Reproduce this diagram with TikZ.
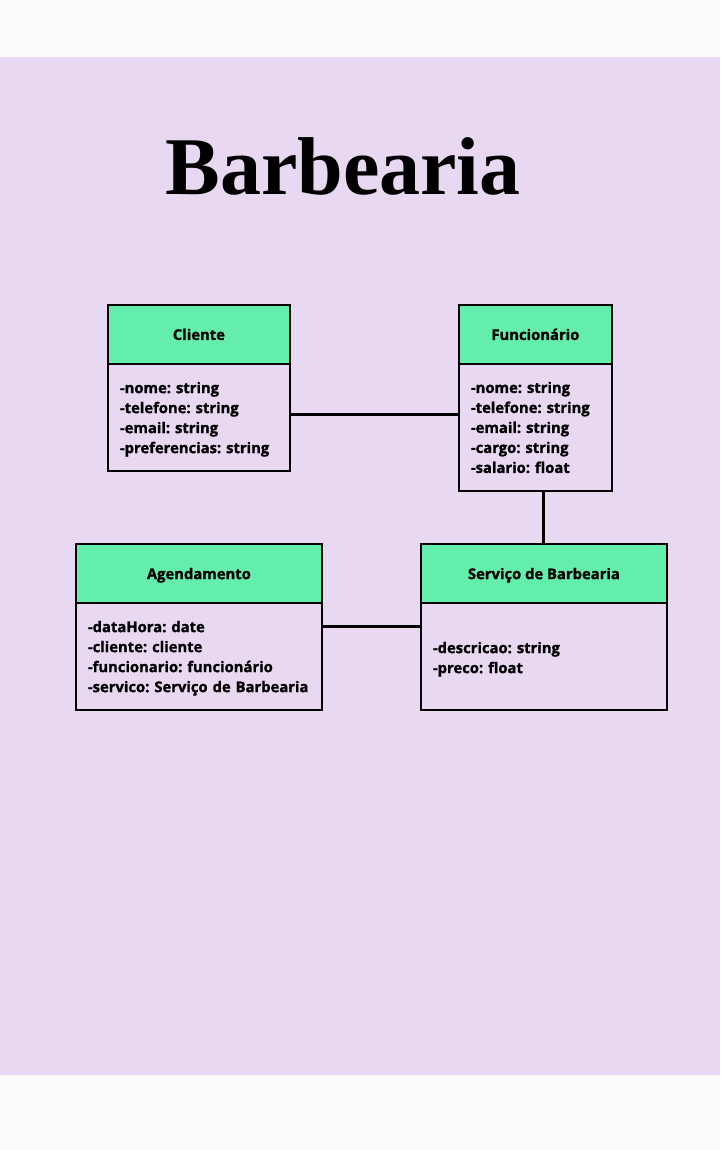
\documentclass[tikz,border=0pt]{standalone}
\usepackage{fontspec}
\setmainfont{Open Sans}[BoldFont={Open Sans Bold},BoldFeatures={FakeBold=1.3}]
\newfontfamily\titlefont{Liberation Serif}
\definecolor{lav}{HTML}{E8D8F2}
\definecolor{hdrgreen}{HTML}{64EEAB}
\definecolor{offwhite}{HTML}{FCFCFC}
\newcommand{\lowerby}[1]{\rule{0pt}{#1pt}}
\tikzset{
  hdr/.style={draw=black, line width=1.8pt, fill=hdrgreen, anchor=north west, minimum height=59, inner sep=0pt, font=\fontsize{14.8}{17}\selectfont\bfseries},
  body/.style={draw=black, line width=1.8pt, fill=lav, anchor=north west, inner xsep=12, inner ysep=0pt, align=left, font=\fontsize{14.8}{20}\selectfont\bfseries},
  conn/.style={draw=black, line width=3pt}
}
\begin{document}
\frenchspacing
\begin{tikzpicture}[x=1pt,y=-1pt]
\useasboundingbox (0,0) rectangle (720,1150);
\fill[offwhite] (0,0) rectangle (720,1150);
\fill[lav] (0,57) rectangle (720,1075);
\node[font=\titlefont\fontsize{82}{90}\selectfont\bfseries, anchor=base] (title) at (343,195) {Barbearia};
% Cliente
\node[hdr, minimum width=182] (cH) at (107,304) {Cliente};
\node[body, minimum height=107, text width=158] (cB) at (107,363) {\lowerby{15}-nome: string\\-telefone: string\\-email: string\\-preferencias: string};
% Funcionario
\node[hdr, minimum width=153] (fH) at (458,304) {Funcionário};
\node[body, minimum height=127, text width=129] (fB) at (458,363) {-nome: string\\-telefone: string\\-email: string\\-cargo: string\\-salario: float};
% Agendamento
\node[hdr, minimum width=246] (aH) at (75,543) {\lowerby{15}Agendamento};
\node[body, minimum height=107, text width=222] (aB) at (75,602) {\lowerby{15}-dataHora: date\\-cliente: cliente\\-funcionario: funcionário\\-servico: Serviço de Barbearia};
% Servico
\node[hdr, minimum width=246] (sH) at (420,543) {\lowerby{15}Serviço de Barbearia};
\node[body, minimum height=107, text width=222] (sB) at (420,602) {\lowerby{17}-descricao: string\\-preco: float};
% connectors
\draw[conn] ([yshift=2.5pt]cB.east) -- ([yshift=2.5pt]cB.east -| fB.west);
\draw[conn] (fB.south -| sH.north) -- (sH.north);
\draw[conn] ([yshift=29.5pt]aB.east) -- ([yshift=29.5pt]aB.east -| sB.west);
\end{tikzpicture}
\end{document}
